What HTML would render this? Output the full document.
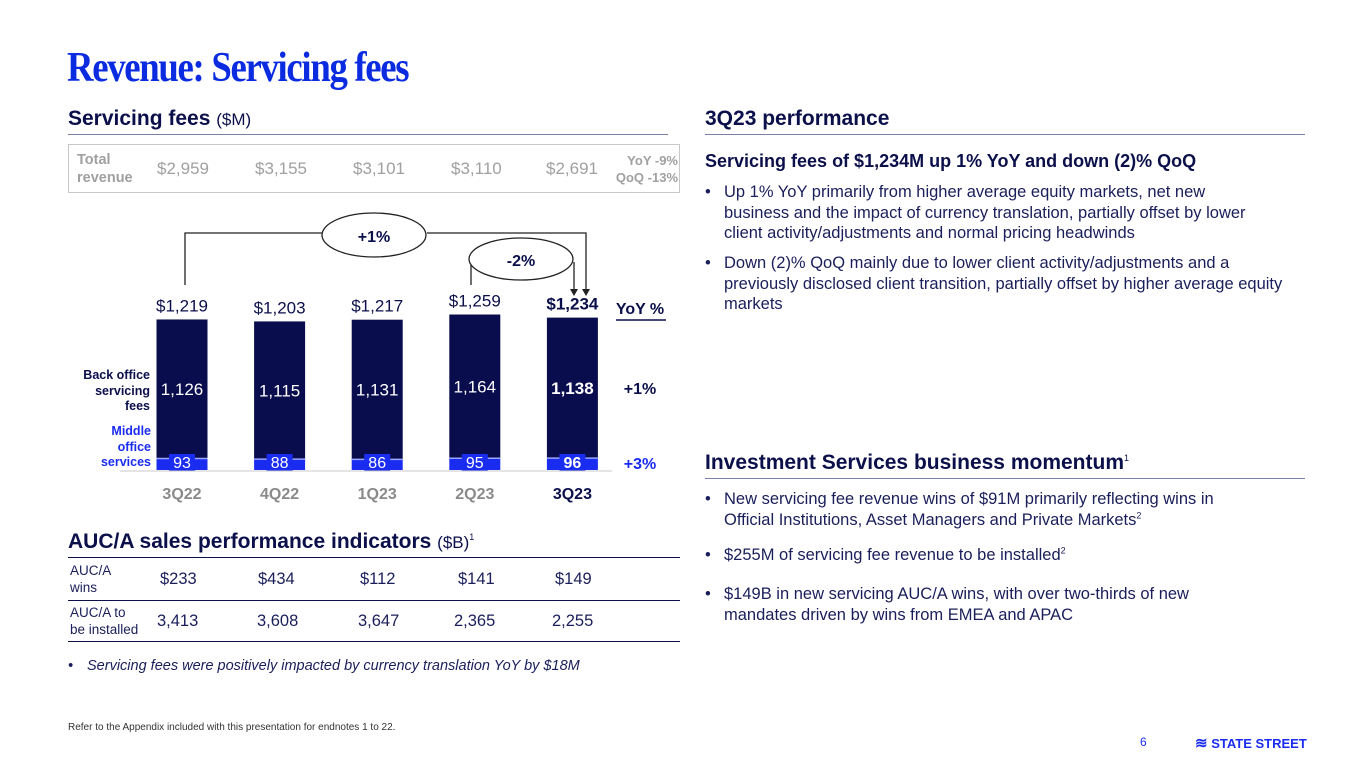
<!DOCTYPE html>
<html><head><meta charset="utf-8"><style>
*{margin:0;padding:0;box-sizing:border-box}
body{width:1365px;height:768px;background:#fff;position:relative;overflow:hidden;font-family:"Liberation Sans",sans-serif;color:#0b0f4a}
.a{position:absolute;white-space:nowrap}
.h2{font-size:21px;font-weight:bold;color:#0b0f4a}
.rule{position:absolute;height:1px;background:#7b7fa6}
.b{font-size:16.5px;line-height:20.5px;color:#1a1e5a}
.bul{position:absolute;padding-left:19px;white-space:normal}
.bul:before{content:"•";position:absolute;left:0}
sup{font-size:9px;line-height:0}
</style></head><body>
<div class="a" style="left:67px;top:44px;font-family:'Liberation Serif',serif;font-weight:bold;font-size:42px;color:#0a2be0;letter-spacing:-1.5px;transform:scaleX(0.875);transform-origin:left">Revenue: Servicing fees</div>

<div class="a h2" style="left:68px;top:107px">Servicing fees <span style="font-weight:normal;font-size:17px">($M)</span></div>
<div class="rule" style="left:68px;top:134px;width:600px"></div>

<div class="a" style="left:68px;top:144px;width:612px;height:49px;border:1px solid #c8c8c8;color:#a0a0a0">
 <div class="a" style="left:8px;top:6px;font-size:14.5px;font-weight:bold;line-height:18px">Total<br>revenue</div>
 <div class="a" style="left:88px;top:14px;font-size:17px">$2,959</div>
 <div class="a" style="left:186px;top:14px;font-size:17px">$3,155</div>
 <div class="a" style="left:284px;top:14px;font-size:17px">$3,101</div>
 <div class="a" style="left:382px;top:14px;font-size:17px">$3,110</div>
 <div class="a" style="left:477px;top:14px;font-size:17px">$2,691</div>
 <div class="a" style="left:541px;top:7px;font-size:13px;font-weight:bold;line-height:17px;text-align:right;width:68px">YoY -9%<br>QoQ -13%</div>
</div>

<svg class="a" style="left:0;top:0" width="700" height="520">
<g id="chart"></g>
<path d="M185,285 V233 H322 M427,233 H586 V290" fill="none" stroke="#222" stroke-width="1.3"/>
<ellipse cx="374" cy="235" rx="52" ry="22" fill="#fff" stroke="#222" stroke-width="1.3"/>
<text x="374" y="242" text-anchor="middle" font-size="16" font-weight="bold" fill="#0b0f4a">+1%</text>
<path d="M471,285 V259" fill="none" stroke="#222" stroke-width="1.3"/>
<ellipse cx="521" cy="259" rx="52" ry="21" fill="#fff" stroke="#222" stroke-width="1.3"/>
<text x="521" y="266" text-anchor="middle" font-size="16" font-weight="bold" fill="#0b0f4a">-2%</text>
<path d="M574,262 V290" stroke="#222" stroke-width="1.3"/>
<path d="M570,289 L578,289 L574,296Z M582,289 L590,289 L586,296Z" fill="#222"/>
<line x1="120" y1="471" x2="612" y2="471" stroke="#c8c8c8"/>
<text x="640" y="314" text-anchor="middle" font-size="16" font-weight="bold" fill="#0b0f4a">YoY %</text>
<line x1="616" y1="320" x2="666" y2="320" stroke="#0b0f4a" stroke-width="1.5"/>
<text x="640" y="394" text-anchor="middle" font-size="16" font-weight="bold" fill="#0b0f4a">+1%</text>
<text x="640" y="469" text-anchor="middle" font-size="16" font-weight="bold" fill="#1a2cf0">+3%</text>
<text text-anchor="end" font-size="12.5" font-weight="bold" fill="#0b0f4a"><tspan x="150" y="379">Back office</tspan><tspan x="150" y="395">servicing</tspan><tspan x="150" y="410">fees</tspan></text>
<text text-anchor="end" font-size="12.5" font-weight="bold" fill="#1a2cf0"><tspan x="151" y="435">Middle</tspan><tspan x="151" y="451">office</tspan><tspan x="151" y="466">services</tspan></text>
</svg>

<div class="a h2" style="left:68px;top:530px">AUC/A sales performance indicators <span style="font-weight:normal;font-size:17px">($B)</span><sup style="font-weight:normal">1</sup></div>
<div class="rule" style="left:68px;top:557px;width:612px;background:#0b0f4a"></div>
<div class="a" style="left:68px;top:560px;width:612px;height:40px;font-size:16.5px;color:#1a1e5a">
 <div class="a" style="left:2px;top:2px;font-size:13.5px;line-height:17px">AUC/A<br>wins</div>
 <div class="a" style="left:92px;top:10px">$233</div><div class="a" style="left:190px;top:10px">$434</div><div class="a" style="left:292px;top:10px">$112</div><div class="a" style="left:390px;top:10px">$141</div><div class="a" style="left:487px;top:10px">$149</div>
</div>
<div class="rule" style="left:68px;top:600px;width:612px;background:#0b0f4a"></div>
<div class="a" style="left:68px;top:602px;width:612px;height:40px;font-size:16.5px;color:#1a1e5a">
 <div class="a" style="left:2px;top:2px;font-size:13.5px;line-height:17px">AUC/A to<br>be installed</div>
 <div class="a" style="left:89px;top:10px">3,413</div><div class="a" style="left:189px;top:10px">3,608</div><div class="a" style="left:290px;top:10px">3,647</div><div class="a" style="left:386px;top:10px">2,365</div><div class="a" style="left:484px;top:10px">2,255</div>
</div>
<div class="rule" style="left:68px;top:641px;width:612px;background:#0b0f4a"></div>
<div class="a b bul" style="left:68px;top:656px;font-style:italic;font-size:14.5px;white-space:nowrap">Servicing fees were positively impacted by currency translation YoY by $18M</div>

<div class="a h2" style="left:705px;top:107px">3Q23 performance</div>
<div class="rule" style="left:705px;top:134px;width:600px"></div>
<div class="a" style="left:705px;top:151px;font-size:18px;font-weight:bold">Servicing fees of $1,234M up 1% YoY and down (2)% QoQ</div>
<div class="a b bul" style="left:705px;top:182px;width:560px">Up 1% YoY primarily from higher average equity markets, net new business and the impact of currency translation, partially offset by lower client activity/adjustments and normal pricing headwinds</div>
<div class="a b bul" style="left:705px;top:253px;width:595px">Down (2)% QoQ mainly due to lower client activity/adjustments and a previously disclosed client transition, partially offset by higher average equity markets</div>

<div class="a h2" style="left:705px;top:451px">Investment Services business momentum<sup style="font-weight:normal">1</sup></div>
<div class="rule" style="left:705px;top:478px;width:600px"></div>
<div class="a b bul" style="left:705px;top:489px;width:560px">New servicing fee revenue wins of $91M primarily reflecting wins in Official Institutions, Asset Managers and Private Markets<sup>2</sup></div>
<div class="a b bul" style="left:705px;top:545px;width:600px">$255M of servicing fee revenue to be installed<sup>2</sup></div>
<div class="a b bul" style="left:705px;top:584px;width:560px">$149B in new servicing AUC/A wins, with over two-thirds of new mandates driven by wins from EMEA and APAC</div>

<div class="a" style="left:68px;top:722px;font-size:10px;color:#333">Refer to the Appendix included with this presentation for endnotes 1 to 22.</div>
<div class="a" style="left:1140px;top:735px;font-size:12px;color:#1a2cf0">6</div>
<div class="a" style="left:1195px;top:734px;font-size:13px;font-weight:bold;color:#1a2cf0"><span style="font-size:15px">≋</span> STATE STREET</div>

<script>
const quarters=["3Q22","4Q22","1Q23","2Q23","3Q23"];
const backOffice=[1126,1115,1131,1164,1138];
const middleOffice=[93,88,86,95,96];
const totals=["$1,219","$1,203","$1,217","$1,259","$1,234"];
const g=document.getElementById("chart");
const NS="http://www.w3.org/2000/svg";
const base=470,scale=0.1235,x0=182,step=97.6,bw=51;
const xc=i=>x0+i*step;
const yv=v=>base-v*scale;
function mk(tag,attrs,txt){const e=document.createElementNS(NS,tag);for(const k in attrs)e.setAttribute(k,attrs[k]);if(txt!==undefined)e.textContent=txt;g.appendChild(e);return e;}
quarters.forEach((q,i)=>{
 const last=i===quarters.length-1;
 const mTop=yv(middleOffice[i]);
 const top=yv(middleOffice[i]+backOffice[i]);
 let r=mk("rect",{x:xc(i)-bw/2,y:top,width:bw,height:mTop-top,fill:"#0a0d4d"});
 
 
 r=mk("rect",{x:xc(i)-bw/2,y:mTop,width:bw,height:base-mTop,fill:"#1a2cf0"});
 
 
 mk("line",{x1:xc(i)-bw/2,x2:xc(i)+bw/2,y1:mTop,y2:mTop,stroke:"#9aa6ff","stroke-width":1.5});
 mk("rect",{x:xc(i)-13,y:454,width:26,height:17,fill:"#1a2cf0"});
 mk("text",{x:xc(i),y:468,"text-anchor":"middle","font-size":16,fill:"#fff","font-weight":last?"bold":"normal"},middleOffice[i]);
 mk("text",{x:xc(i),y:(top+mTop)/2+6,"text-anchor":"middle","font-size":17,fill:"#fff","font-weight":last?"bold":"normal"},backOffice[i].toLocaleString("en-US"));
 mk("text",{x:xc(i),y:top-8,"text-anchor":"middle","font-size":17,fill:"#0b0f4a","font-weight":last?"bold":"normal"},totals[i]);
 mk("text",{x:xc(i),y:499,"text-anchor":"middle","font-size":16,"font-weight":"bold",fill:last?"#0b0f4a":"#8a8a8a"},q);
});
</script>
</body></html>
